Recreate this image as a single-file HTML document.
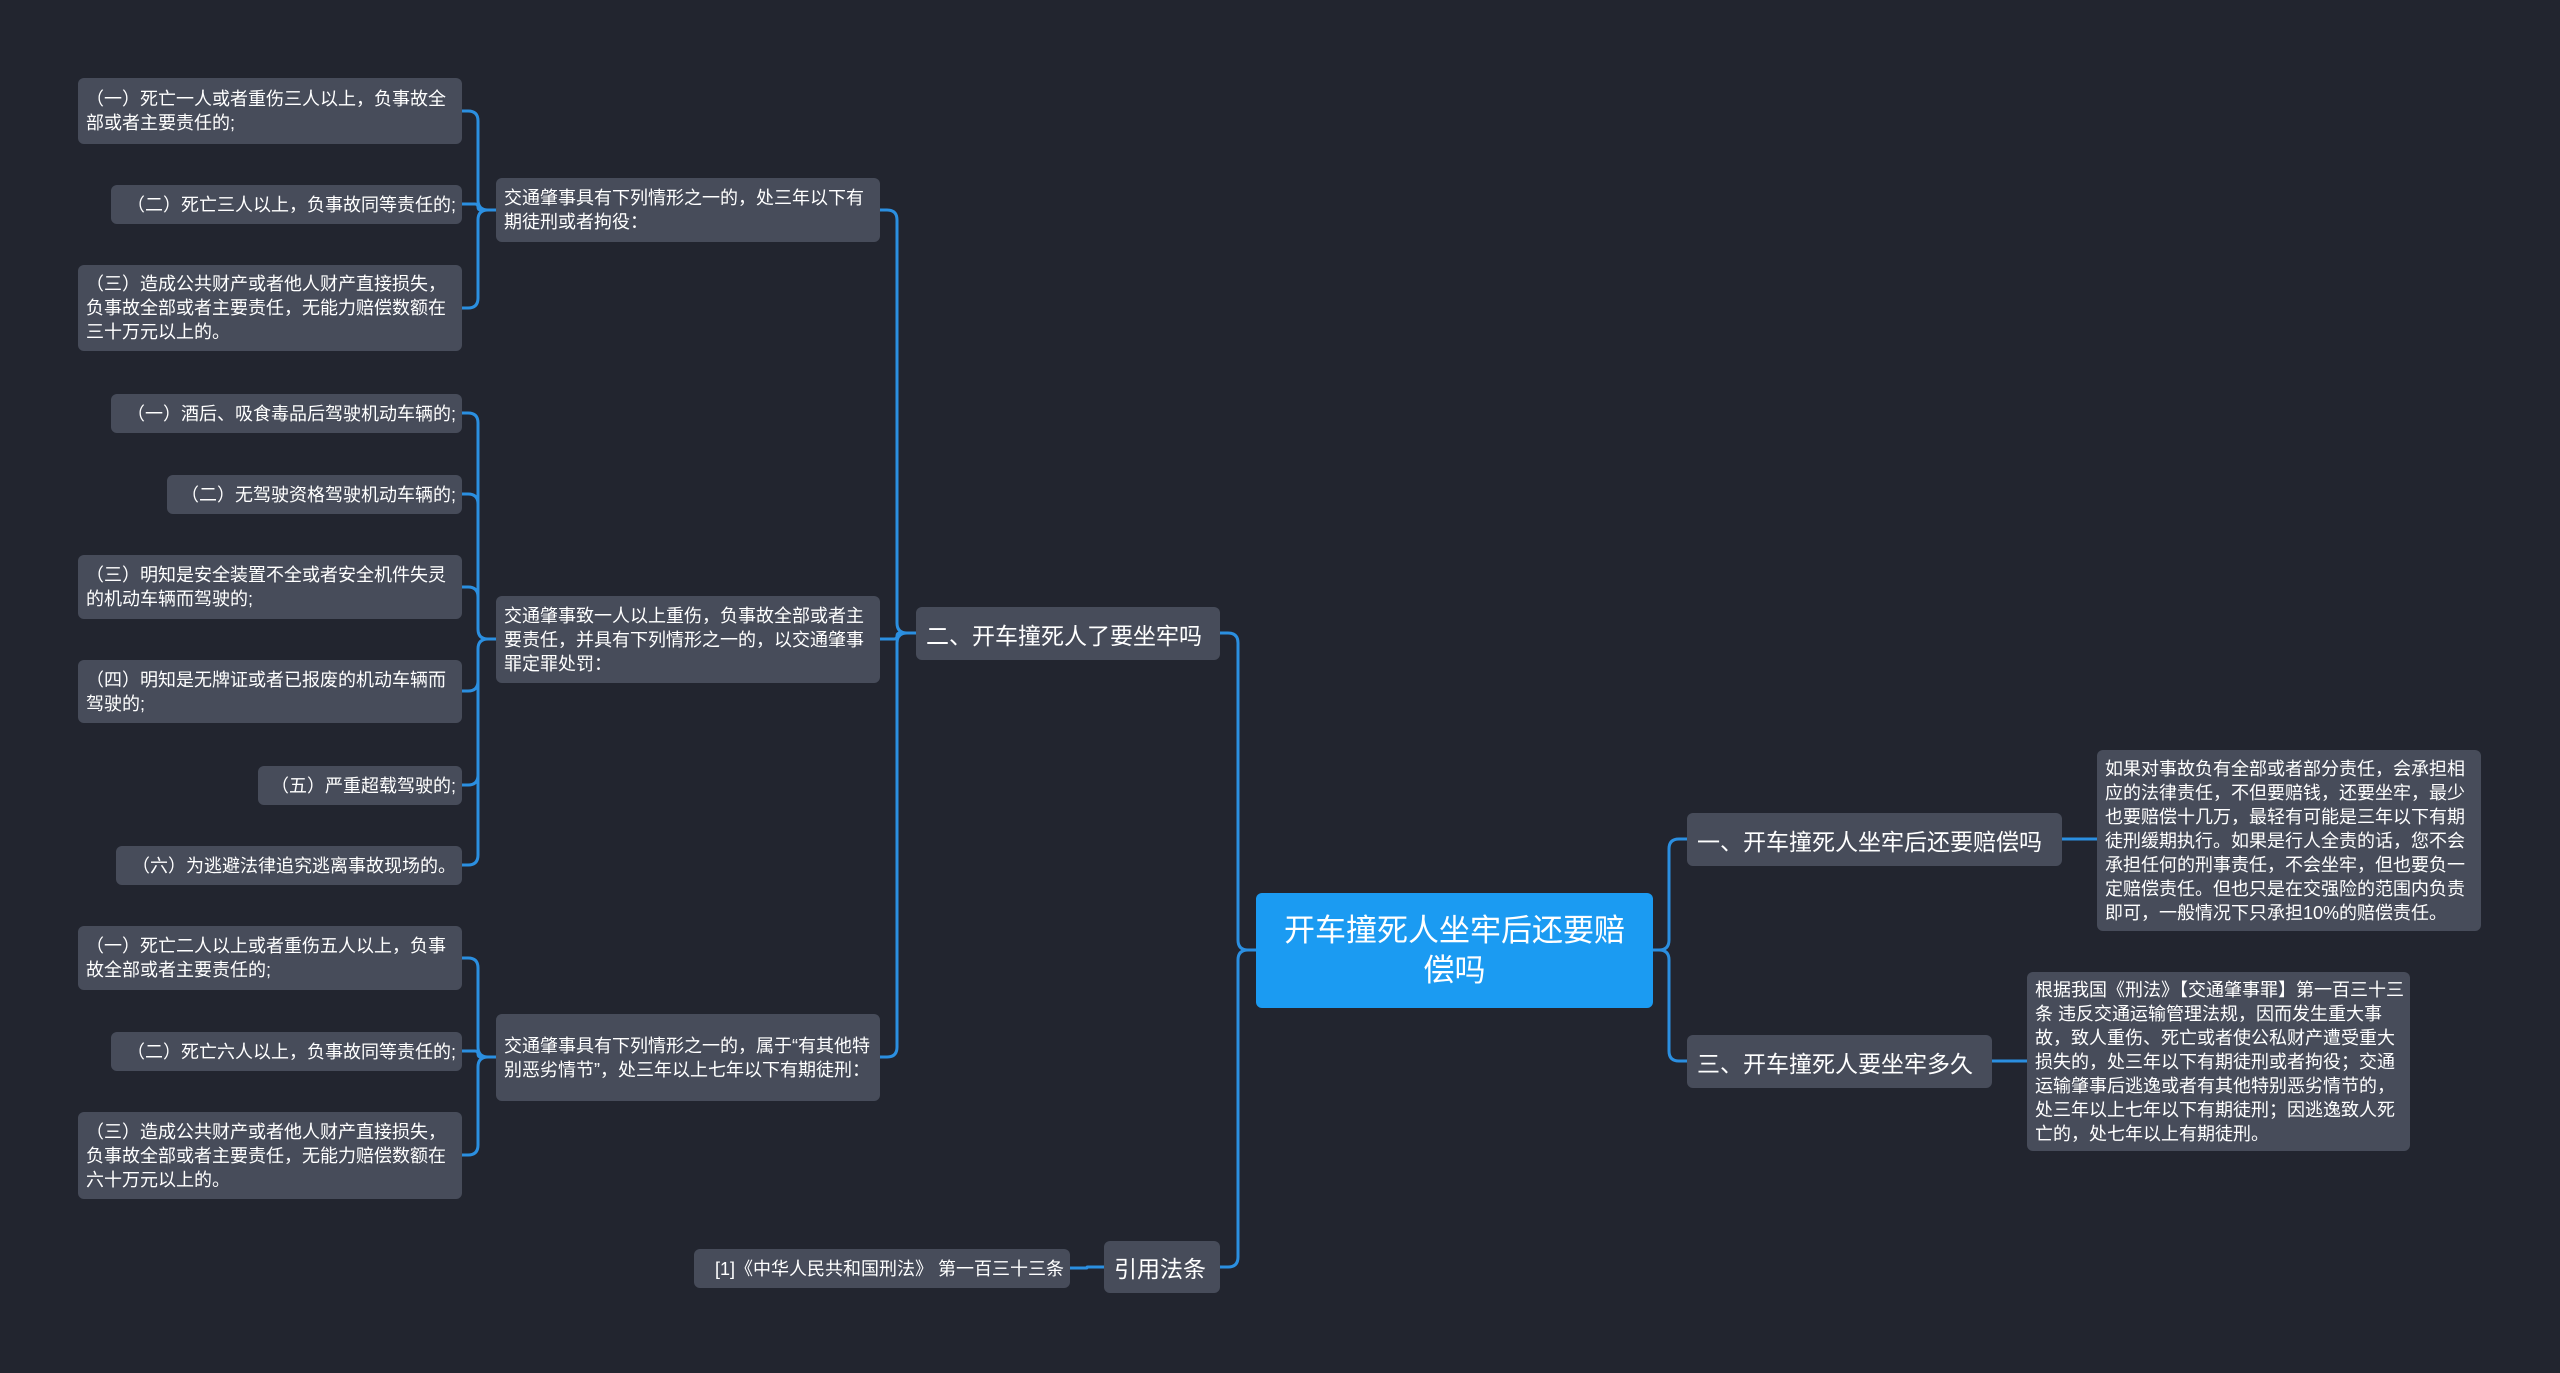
<!DOCTYPE html>
<html><head><meta charset="utf-8"><style>
html,body{margin:0;padding:0;}
body{width:2560px;height:1373px;background:#22252f;position:relative;overflow:hidden;font-family:"Liberation Sans","Noto Sans CJK SC",sans-serif;color:#fff;}
.n{position:absolute;box-sizing:border-box;background:#474c5a;border-radius:6px;display:flex;align-items:center;}
.l{font-size:18px;line-height:24px;padding:0 6px 0 8px;}
.s{white-space:nowrap;justify-content:flex-end;}
.b{font-size:23px;padding:0 10px;white-space:nowrap;}
.r{background:#1b9bf2;font-size:31px;line-height:40px;text-align:center;justify-content:center;border-radius:6px;}
svg{position:absolute;left:0;top:0;}
</style></head><body>
<svg id="s" width="2560" height="1373"></svg>

<div class="n r" style="left:1256px;top:893px;width:397px;height:115px;">开车撞死人坐牢后还要赔<br>偿吗</div>

<div class="n b" style="left:1687px;top:813px;width:375px;height:53px;">一、开车撞死人坐牢后还要赔偿吗</div>
<div class="n l" style="left:2097px;top:750px;width:384px;height:181px;">如果对事故负有全部或者部分责任，会承担相应的法律责任，不但要赔钱，还要坐牢，最少也要赔偿十几万，最轻有可能是三年以下有期徒刑缓期执行。如果是行人全责的话，您不会承担任何的刑事责任，不会坐牢，但也要负一定赔偿责任。但也只是在交强险的范围内负责即可，一般情况下只承担10%的赔偿责任。</div>
<div class="n b" style="left:1687px;top:1035px;width:305px;height:53px;">三、开车撞死人要坐牢多久</div>
<div class="n l" style="left:2027px;top:972px;width:383px;height:179px;">根据我国《刑法》【交通肇事罪】第一百三十三条 违反交通运输管理法规，因而发生重大事故，致人重伤、死亡或者使公私财产遭受重大损失的，处三年以下有期徒刑或者拘役；交通运输肇事后逃逸或者有其他特别恶劣情节的，处三年以上七年以下有期徒刑；因逃逸致人死亡的，处七年以上有期徒刑。</div>

<div class="n b" style="left:916px;top:607px;width:304px;height:53px;">二、开车撞死人了要坐牢吗</div>
<div class="n b" style="left:1104px;top:1241px;width:116px;height:52px;">引用法条</div>
<div class="n l s" style="left:694px;top:1249px;width:376px;height:39px;">[1]《中华人民共和国刑法》 第一百三十三条</div>

<div class="n l" style="left:496px;top:178px;width:384px;height:64px;">交通肇事具有下列情形之一的，处三年以下有期徒刑或者拘役：</div>
<div class="n l" style="left:496px;top:596px;width:384px;height:87px;">交通肇事致一人以上重伤，负事故全部或者主要责任，并具有下列情形之一的，以交通肇事罪定罪处罚：</div>
<div class="n l" style="left:496px;top:1014px;width:384px;height:87px;">交通肇事具有下列情形之一的，属于“有其他特别恶劣情节”，处三年以上七年以下有期徒刑：</div>

<div class="n l" style="left:78px;top:78px;width:384px;height:66px;">（一）死亡一人或者重伤三人以上，负事故全部或者主要责任的;</div>
<div class="n l s" style="left:111px;top:185px;width:351px;height:39px;">（二）死亡三人以上，负事故同等责任的;</div>
<div class="n l" style="left:78px;top:265px;width:384px;height:86px;">（三）造成公共财产或者他人财产直接损失，负事故全部或者主要责任，无能力赔偿数额在三十万元以上的。</div>
<div class="n l s" style="left:111px;top:394px;width:351px;height:39px;">（一）酒后、吸食毒品后驾驶机动车辆的;</div>
<div class="n l s" style="left:167px;top:475px;width:295px;height:39px;">（二）无驾驶资格驾驶机动车辆的;</div>
<div class="n l" style="left:78px;top:555px;width:384px;height:64px;">（三）明知是安全装置不全或者安全机件失灵的机动车辆而驾驶的;</div>
<div class="n l" style="left:78px;top:660px;width:384px;height:63px;">（四）明知是无牌证或者已报废的机动车辆而驾驶的;</div>
<div class="n l s" style="left:258px;top:766px;width:204px;height:39px;">（五）严重超载驾驶的;</div>
<div class="n l s" style="left:116px;top:846px;width:346px;height:39px;">（六）为逃避法律追究逃离事故现场的。</div>
<div class="n l" style="left:78px;top:926px;width:384px;height:64px;">（一）死亡二人以上或者重伤五人以上，负事故全部或者主要责任的;</div>
<div class="n l s" style="left:111px;top:1032px;width:351px;height:39px;">（二）死亡六人以上，负事故同等责任的;</div>
<div class="n l" style="left:78px;top:1112px;width:384px;height:87px;">（三）造成公共财产或者他人财产直接损失，负事故全部或者主要责任，无能力赔偿数额在六十万元以上的。</div>

<script>
var s=document.getElementById('s'),d='';
function L(px,py,sx,cx,cy){
 var dir=cx<px?-1:1,r=Math.min(10,Math.abs(cy-py)/2);
 if(Math.abs(cy-py)<1){d+='M'+px+' '+py+'H'+cx;return;}
 var v=cy>py?1:-1;
 d+='M'+px+' '+py+'H'+(sx-dir*r)+'Q'+sx+' '+py+' '+sx+' '+(py+v*r)+'V'+(cy-v*r)+'Q'+sx+' '+cy+' '+(sx+dir*r)+' '+cy+'H'+cx;
}
L(1653,950,1669,1687,839);L(1653,950,1669,1687,1061);
L(2062,839,2080,2097,839);L(1992,1061,2010,2027,1061);
L(1256,950,1238,1220,633);L(1256,950,1238,1220,1267);
L(1104,1267,1087,1070,1268);
L(916,633,897,880,210);L(916,633,897,880,639);L(916,633,897,880,1057);
[111,204,308].forEach(function(y){L(496,210,478,462,y);});
[413,494,587,691,785,865].forEach(function(y){L(496,639,478,462,y);});
[958,1051,1155].forEach(function(y){L(496,1057,478,462,y);});
s.innerHTML='<path d="'+d+'" fill="none" stroke="#2b8fe0" stroke-width="3"/>';
</script>
</body></html>
